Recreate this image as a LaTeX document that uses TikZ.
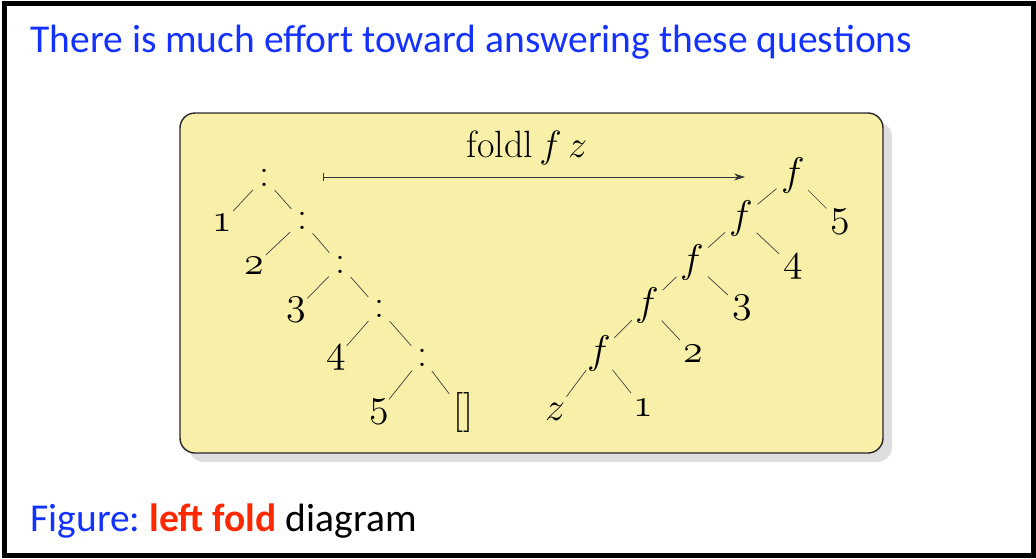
\RequirePackage{fix-cm}
\documentclass[tikz,border=0pt]{standalone}
\usepackage{fontspec}
\usepackage{xcolor}
\usetikzlibrary{arrows.meta, calc}
\newfontfamily\slidefont{Carlito}
\newcommand\osnum[1]{{\usefont{OML}{cmm}{m}{it}#1}}
\definecolor{slideblue}{RGB}{20,50,255}
\definecolor{slidered}{RGB}{255,40,0}
\definecolor{panelfill}{RGB}{248,240,168}
\definecolor{paneldark}{RGB}{222,222,225}

\begin{document}
\begin{tikzpicture}[
    x=1pt, y=-1pt,
    panel/.style={rounded corners=15pt, draw=black!85, line width=1.4pt, fill=panelfill},
    paneldrop/.style={rounded corners=15pt, fill=paneldark},
    tnode/.style={circle, inner sep=0pt, minimum size=#1, font=\fontsize{40}{44}\selectfont},
    tnode/.default=32pt,
    edge/.style={draw=black!75, line width=0.7pt},
    maparrow/.style={{Bar[width=8pt]}-{Stealth[length=11pt, width=7pt]}, line width=0.7pt, draw=black!80},
    slidetext/.style={font=\slidefont\frenchspacing\fontsize{39.5}{44}\selectfont, anchor=base west},
]
\useasboundingbox (0,0) rectangle (1036,558);
\draw[line width=5pt] (4.5,3.5) rectangle (1033.5,555.5);
\node[slidetext, text=slideblue] (title) at (27,52) {There is much effort toward answering these questions};
\node[slidetext] (caption) at (27,531) {\textcolor{slideblue}{Figure:} \textcolor{slidered}{\bfseries left fold} diagram};

% panel
\fill[paneldrop] (189,122) rectangle (892,462);
\draw[panel] (180,113) rectangle (883,453);

% list as cons cells
\node[tnode] (c1) at (264,178) {:};
\node[tnode] (l1) at (222,223) {\osnum{1}};
\node[tnode] (c2) at (302,221) {:};
\node[tnode] (l2) at (254,266) {\osnum{2}};
\node[tnode] (c3) at (340,265) {:};
\node[tnode] (l3) at (296,310) {\osnum{3}};
\node[tnode] (c4) at (379,309) {:};
\node[tnode] (l4) at (336,358) {\osnum{4}};
\node[tnode] (c5) at (422,358) {:};
\node[tnode] (l5) at (379,412) {\osnum{5}};
\node[tnode] (nil) at (463,412) {[]};
\draw[edge] (c1)--(l1); \draw[edge] (c1)--(c2);
\draw[edge] (c2)--(l2); \draw[edge] (c2)--(c3);
\draw[edge] (c3)--(l3); \draw[edge] (c3)--(c4);
\draw[edge] (c4)--(l4); \draw[edge] (c4)--(c5);
\draw[edge] (c5)--(l5); \draw[edge] (c5)--(nil);

% folded result
\node[tnode=38pt] (f5) at (793,175) {$f$};
\node[tnode=38pt] (r5) at (840,222) {\osnum{5}};
\node[tnode=38pt] (f4) at (741,218) {$f$};
\node[tnode=38pt] (r4) at (793,267) {\osnum{4}};
\node[tnode=38pt] (f3) at (692,262) {$f$};
\node[tnode=38pt] (r3) at (742,308) {\osnum{3}};
\node[tnode=38pt] (f2) at (647,305) {$f$};
\node[tnode=38pt] (r2) at (693,354) {\osnum{2}};
\node[tnode=38pt] (f1) at (599,353) {$f$};
\node[tnode=38pt] (r1) at (643,408) {\osnum{1}};
\node[tnode=38pt] (z) at (555,412) {$z$};
\draw[edge] (f5)--(f4); \draw[edge] (f5)--(r5);
\draw[edge] (f4)--(f3); \draw[edge] (f4)--(r4);
\draw[edge] (f3)--(f2); \draw[edge] (f3)--(r3);
\draw[edge] (f2)--(f1); \draw[edge] (f2)--(r2);
\draw[edge] (f1)--(z); \draw[edge] (f1)--(r1);

% the fold
\coordinate (mapfrom) at (323,177);
\coordinate (mapto) at (745,177);
\draw[maparrow] (mapfrom)--(mapto);
\node[font=\fontsize{38}{42}\selectfont] (maplabel) at (527,148) {foldl\,$f\,z$};
\end{tikzpicture}
\end{document}
